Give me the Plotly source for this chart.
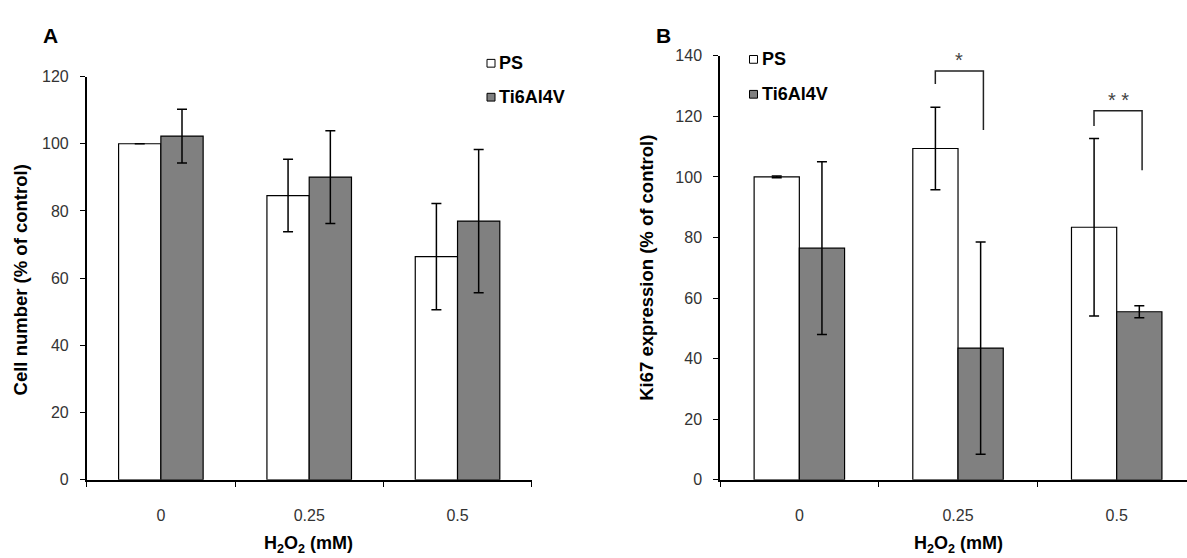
import plotly.graph_objects as go

# H2O2 concentrations (mM)
h2o2 = ["0", "0.25", "0.5"]

# Panel A: cell number (% of control)
cell_ps = [100.0, 84.6, 66.4]
cell_ps_err = [0.0, 10.8, 15.8]
cell_ti = [102.3, 90.1, 77.0]
cell_ti_err = [8.0, 13.8, 21.3]

# Panel B: Ki67 expression (% of control)
ki_ps = [100.0, 109.4, 83.4]
ki_ps_err = [0.3, 13.6, 29.3]
ki_ti = [76.5, 43.5, 55.5]
ki_ti_err = [28.5, 35.0, 2.0]

# significance brackets on panel B: (category index, left top, left bottom, right bottom, label)
brackets = [
    (1, 135.0, 130.7, 115.5, "*"),
    (2, 121.9, 116.8, 102.2, "* *"),
]

W, H = 1187, 558
FONT = "Liberation Sans, Arial, sans-serif"


def px(x):
    return x / W


def py(y):
    return 1 - y / H


fig = go.Figure()

err_style = dict(type="data", color="black", thickness=1.5, width=5, visible=True)


def add_pair(ps, ps_err, ti, ti_err, xa, ya):
    fig.add_trace(go.Bar(
        x=h2o2, y=ps, name="PS", xaxis=xa, yaxis=ya, offsetgroup="ps",
        marker=dict(color="white", line=dict(color="black", width=1.2)),
        error_y=dict(array=ps_err, **err_style), showlegend=False,
    ))
    fig.add_trace(go.Bar(
        x=h2o2, y=ti, name="Ti6Al4V", xaxis=xa, yaxis=ya, offsetgroup="ti",
        marker=dict(color="#808080", line=dict(color="black", width=1.2)),
        error_y=dict(array=ti_err, **err_style), showlegend=False,
    ))


add_pair(cell_ps, cell_ps_err, cell_ti, cell_ti_err, "x", "y")
add_pair(ki_ps, ki_ps_err, ki_ti, ki_ti_err, "x2", "y2")

xcommon = dict(
    type="category", showline=True, linecolor="black", linewidth=1.5,
    ticks="outside", tickson="boundaries", ticklen=5, tickwidth=1.3, tickcolor="black",
    showgrid=False, zeroline=False, ticklabelstandoff=20,
    tickfont=dict(family=FONT, size=16, color="#333333"),
)
ycommon = dict(
    showline=True, linecolor="black", linewidth=1.5,
    ticks="outside", ticklen=5, tickwidth=1.3, tickcolor="black",
    showgrid=False, zeroline=False, dtick=20, ticklabelstandoff=8,
    tickfont=dict(family=FONT, size=16, color="#333333"),
)

annotations = []
shapes = []

# axis titles and panel letters
def text(x, y, s, size, bold=False, angle=0, color="black", xanchor="center"):
    annotations.append(dict(
        x=px(x), y=py(y), xref="paper", yref="paper", text=f"<b>{s}</b>" if bold else s,
        showarrow=False, textangle=angle, xanchor=xanchor, yanchor="middle",
        font=dict(family=FONT, size=size, color=color),
    ))


text(50, 28, "A", 21, bold=True)
text(663, 28, "B", 21, bold=True)
text(20, 281, "Cell number (% of control)", 18.5, bold=True, angle=-90)
text(647, 268, "Ki67 expression (% of control)", 18.5, bold=True, angle=-90)
text(309, 553, "H<sub>2</sub>O<sub>2</sub> (mM)", 18, bold=True)
text(958, 553, "H<sub>2</sub>O<sub>2</sub> (mM)", 18, bold=True)

# legends
def legend(x, y_ps, y_ti):
    for yy, fill, label in [(y_ps, "white", "PS"), (y_ti, "#808080", "Ti6Al4V")]:
        shapes.append(dict(type="rect", xref="paper", yref="paper",
                           x0=px(x - 4), x1=px(x + 4), y0=py(yy + 4), y1=py(yy - 4),
                           fillcolor=fill, line=dict(color="black", width=1)))
        text(x + 6, yy, label, 18, bold=True, xanchor="left")


legend(491, 57, 92)
legend(753.5, 53, 89)

# significance brackets
for idx, top, lbot, rbot, label in brackets:
    xl, xr = idx - 0.143, idx + 0.16
    shapes.append(dict(type="path", xref="x2", yref="y2",
                       path=f"M {xl},{lbot} L {xl},{top} L {xr},{top} L {xr},{rbot}",
                       line=dict(color="#222222", width=1.5)))
    annotations.append(dict(x=(xl + xr) / 2, y=top + 3.6, xref="x2", yref="y2", text=label,
                            showarrow=False, yanchor="middle",
                            font=dict(family=FONT, size=20, color="#444444")))

fig.update_layout(
    width=W, height=H, margin=dict(l=0, r=0, t=0, b=0),
    paper_bgcolor="white", plot_bgcolor="white",
    barmode="group", bargap=0.43, bargroupgap=0,
    showlegend=False,
    xaxis=dict(domain=[px(86.7), px(531.7)], anchor="y", range=[-0.5, 2.5], **xcommon),
    yaxis=dict(domain=[py(486.7), py(70.7)], anchor="x", range=[0, 120], **ycommon),
    xaxis2=dict(domain=[px(720), 1.0], anchor="y2", range=[-0.5, 2.443], **xcommon),
    yaxis2=dict(domain=[py(486.7), py(49.3)], anchor="x2", range=[0, 140], **ycommon),
    annotations=annotations,
    shapes=shapes,
)

fig.write_html("out.html")
